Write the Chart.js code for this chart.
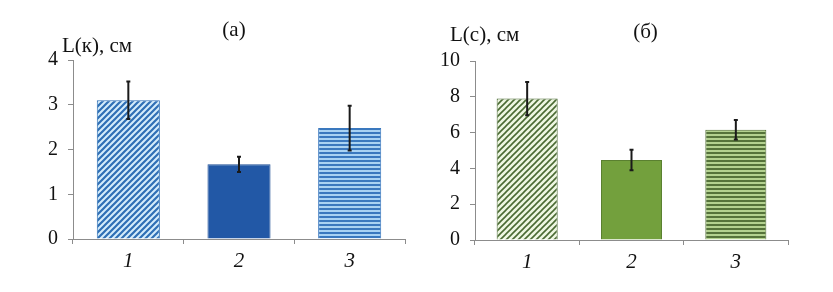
<!DOCTYPE html>
<html>
<head>
<meta charset="utf-8">
<script src="https://cdn.jsdelivr.net/npm/chart.js@4.4.1/dist/chart.umd.min.js"></script>
<style>
  html, body { margin: 0; padding: 0; background: #fff; }
  #wrap { position: relative; width: 833px; height: 292px; }
  #wrap div { position: absolute; top: 0; height: 292px; }
</style>
</head>
<body>
<div id="wrap">
  <div style="left:0;width:416px"><canvas id="chartK"></canvas></div>
  <div style="left:416px;width:417px"><canvas id="chartC"></canvas></div>
</div>
<script>
// категории (номер серии)
const categories = ['1', '2', '3'];

// (а) L(к), см
const lengthK = [3.1, 1.67, 2.48];
const errK = [0.42, 0.17, 0.5];
const ticksK = [0, 1, 2, 3, 4];

// (б) L(с), см
const lengthC = [7.9, 4.47, 6.16];
const errC = [0.93, 0.57, 0.55];
const ticksC = [0, 2, 4, 6, 8, 10];

const SERIF = '"Liberation Serif", "Times New Roman", serif';

// штриховки
function diagPattern(bg, fg, w) {
  const c = document.createElement('canvas');
  c.width = 6; c.height = 6;
  const g = c.getContext('2d');
  g.fillStyle = bg; g.fillRect(0, 0, 6, 6);
  g.strokeStyle = fg; g.lineWidth = w;
  g.beginPath();
  g.moveTo(-1, 7); g.lineTo(7, -1);
  g.moveTo(-1, 1); g.lineTo(1, -1);
  g.moveTo(5, 7); g.lineTo(7, 5);
  g.stroke();
  return g.createPattern(c, 'repeat');
}
function horizPattern(bg, fg) {
  const c = document.createElement('canvas');
  c.width = 4; c.height = 4;
  const g = c.getContext('2d');
  g.fillStyle = bg; g.fillRect(0, 0, 4, 4);
  g.fillStyle = fg; g.fillRect(0, 0, 4, 2);
  return g.createPattern(c, 'repeat');
}

// усы погрешностей + подписи
const errorBars = {
  id: 'errorBars',
  afterDatasetsDraw(chart, args, opts) {
    const ctx = chart.ctx;
    const meta = chart.getDatasetMeta(0);
    const y = chart.scales.y;
    const vals = chart.data.datasets[0].data;
    ctx.save();
    ctx.strokeStyle = '#1a1a1a';
    ctx.lineWidth = 2;
    meta.data.forEach((bar, i) => {
      const top = y.getPixelForValue(vals[i] + opts.err[i]);
      const bot = y.getPixelForValue(vals[i] - opts.err[i]);
      ctx.beginPath();
      ctx.moveTo(bar.x, top); ctx.lineTo(bar.x, bot);
      ctx.moveTo(bar.x - 2, top); ctx.lineTo(bar.x + 2, top);
      ctx.moveTo(bar.x - 2, bot); ctx.lineTo(bar.x + 2, bot);
      ctx.stroke();
    });
    const a = chart.chartArea;
    ctx.fillStyle = '#111';
    ctx.font = '21px ' + SERIF;
    ctx.textBaseline = 'middle';
    ctx.textAlign = 'left';
    ctx.fillText(opts.yTitle, a.left + opts.yTitleDx, a.top + opts.yTitleDy);
    ctx.textAlign = 'center';
    ctx.fillText(opts.title, (a.left + a.right) / 2 + opts.titleDx, a.top + opts.titleDy);
    ctx.restore();
  }
};

function makeChart(id, values, errs, ticks, fills, borders, o) {
  return new Chart(document.getElementById(id), {
    type: 'bar',
    data: {
      labels: categories,
      datasets: [{
        data: values,
        backgroundColor: fills,
        borderColor: borders,
        borderWidth: 1,
        categoryPercentage: 1,
        barPercentage: o.barPct
      }]
    },
    options: {
      responsive: true,
      maintainAspectRatio: false,
      animation: false,
      layout: { padding: { top: o.top, right: o.right, left: 0, bottom: 0 } },
      plugins: {
        legend: { display: false },
        tooltip: { enabled: false },
        errorBars: { err: errs, yTitle: o.yTitle, yTitleDx: o.yTitleDx, yTitleDy: o.yTitleDy,
                     title: o.title, titleDx: o.titleDx, titleDy: o.titleDy }
      },
      scales: {
        x: {
          offset: true,
          border: { display: true, color: '#8c8c8c', width: 1 },
          grid: { display: true, drawOnChartArea: false, offset: true, tickLength: 5, color: '#8c8c8c' },
          ticks: { color: '#111', font: { family: SERIF, size: 21, style: 'italic' }, padding: 5 },
          afterFit(s) { s.height = o.xHeight; }
        },
        y: {
          min: ticks[0],
          max: ticks[ticks.length - 1],
          border: { display: true, color: '#8c8c8c', width: 1 },
          grid: { display: true, drawOnChartArea: false, tickLength: 5, color: '#8c8c8c' },
          ticks: { stepSize: ticks[1] - ticks[0], color: '#111', font: { family: SERIF, size: 20 }, padding: 10 },
          afterFit(s) { s.width = o.yWidth; }
        }
      }
    },
    plugins: [errorBars]
  });
}

makeChart('chartK', lengthK, errK, ticksK,
  [diagPattern('#d4ecfb', '#2f6fb5', 2.2), '#2258a6', horizPattern('#a9d2f2', '#3a78be')],
  ['#2f6fb5', '#1f4f96', '#3a78be'],
  { barPct: 0.57, top: 60, right: 11, xHeight: 53, yWidth: 73,
    yTitle: 'L(к), см', yTitleDx: -11, yTitleDy: -14,
    title: '(а)', titleDx: -5, titleDy: -30 });

makeChart('chartC', lengthC, errC, ticksC,
  [diagPattern('#eef7e2', '#4a6a33', 1.6), '#73a03d', horizPattern('#b3d18f', '#55733a')],
  ['#4a6a33', '#5a8030', '#4d6b30'],
  { barPct: 0.585, top: 61, right: 45, xHeight: 52, yWidth: 59,
    yTitle: 'L(с), см', yTitleDx: -25, yTitleDy: -26,
    title: '(б)', titleDx: 14, titleDy: -29 });
</script>
</body>
</html>
